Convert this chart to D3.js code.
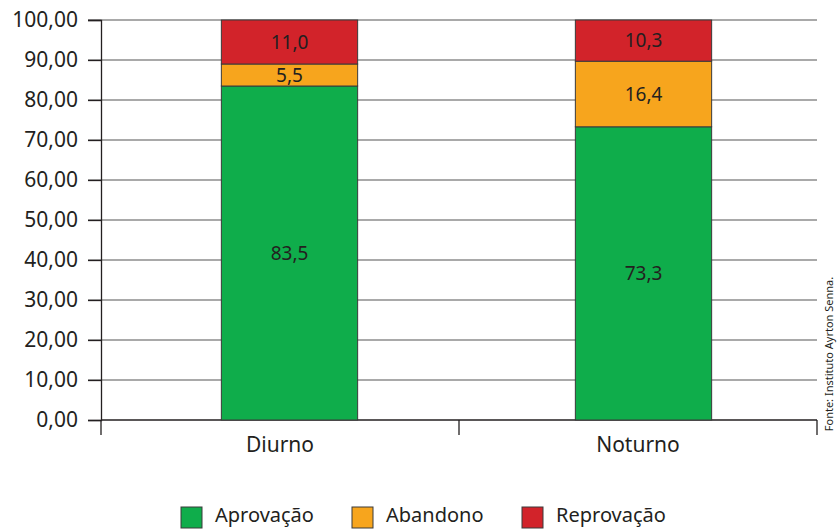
<!DOCTYPE html>
<html><head><meta charset="utf-8">
<script src="https://cdn.jsdelivr.net/npm/d3@7"></script>
<style>body{margin:0;background:#fff}svg{display:block}text{font-family:"Noto Sans",sans-serif;fill:#231f20}</style>
</head><body><svg id="c" width="837" height="529"></svg>
<script>
const categories = ["Diurno", "Noturno"];
const seriesNames = ["Aprovação", "Abandono", "Reprovação"];
const aprovacao = [83.5, 73.3];
const abandono = [5.5, 16.4];
const reprovacao = [11.0, 10.3];
const yTicks = [0, 10, 20, 30, 40, 50, 60, 70, 80, 90, 100];
const colors = ["#0fad4b", "#f7a51d", "#d2232a"];
const source = "Fonte: Instituto Ayrton Senna.";

(function () {
const svg = d3.select("#c");
const mLeft = 101, mRight = 817, mTop = 20, mBottom = 420;
const x = d3.scaleBand().domain(categories).range([mLeft, mRight]);
// bars sit slightly right of the axis band centres in the original
const xBar = d3.scaleBand().domain(categories).range([mLeft + 11.5, mRight + 3.5]);
const y = d3.scaleLinear().domain([0, 100]).range([mBottom, mTop]);
const fmt = v => d3.format(".2f")(v).replace(".", ",");
const fmt1 = v => d3.format(".1f")(v).replace(".", ",");

// gridlines
svg.append("g").selectAll("line").data(yTicks.filter(t => t > 0)).join("line")
  .attr("x1", 88).attr("x2", mRight).attr("y1", d => y(d)).attr("y2", d => y(d))
  .attr("stroke", "#8c8c8c").attr("stroke-width", 1.3);

// y axis
const ya = svg.append("g").attr("transform", `translate(${mLeft},0)`)
  .call(d3.axisLeft(y).tickValues(yTicks).tickFormat(fmt).tickSize(13).tickPadding(10));
ya.select(".domain").attr("stroke", "#231f20").attr("stroke-width", 1.3);
ya.selectAll(".tick line").attr("stroke", "#231f20").attr("stroke-width", 1.3);
ya.selectAll("text").style("font-size", "21px").attr("fill", "#231f20");

// x axis
const xa = svg.append("g").attr("transform", `translate(0,${mBottom})`)
  .call(d3.axisBottom(x).tickSize(0).tickPadding(17));
xa.select(".domain").attr("stroke", "#231f20").attr("stroke-width", 1.3).attr("d", `M${mLeft},0H${mRight}`);
xa.selectAll("text").style("font-size", "21px").attr("fill", "#231f20");
const bounds = [mLeft].concat(categories.map(c => x(c) + x.bandwidth()));
svg.append("g").selectAll("line").data(bounds).join("line")
  .attr("x1", d => d).attr("x2", d => d).attr("y1", mBottom).attr("y2", mBottom + 15)
  .attr("stroke", "#231f20").attr("stroke-width", 1.3);

// stacked bars
const rows = categories.map((c, i) => ({cat: c, a: aprovacao[i], b: abandono[i], r: reprovacao[i]}));
const stack = d3.stack().keys(["a", "b", "r"])(rows);
const bw = xBar.bandwidth() * 0.385;
stack.forEach((layer, li) => {
  const g = svg.append("g");
  g.selectAll("rect").data(layer).join("rect")
    .attr("x", d => xBar(d.data.cat) + (xBar.bandwidth() - bw) / 2)
    .attr("width", bw)
    .attr("y", d => y(d[1])).attr("height", d => y(d[0]) - y(d[1]))
    .attr("fill", colors[li]).attr("stroke", "#3a3a3a").attr("stroke-width", 1);
  g.selectAll("text").data(layer).join("text")
    .attr("x", d => xBar(d.data.cat) + xBar.bandwidth() / 2)
    .attr("y", d => (y(d[0]) + y(d[1])) / 2)
    .attr("text-anchor", "middle").attr("dy", "0.36em")
    .style("font-size", "19px")
    .text(d => fmt1(d[1] - d[0]));
});

// legend
const legX = [181, 352, 522];
const lg = svg.append("g");
seriesNames.forEach((n, i) => {
  lg.append("rect").attr("x", legX[i]).attr("y", 507).attr("width", 21).attr("height", 21)
    .attr("fill", colors[i]).attr("stroke", "#3a3a3a").attr("stroke-width", 1);
  lg.append("text").attr("x", legX[i] + 34).attr("y", 522).style("font-size", "20px").text(n);
});

// source
svg.append("text").attr("transform", "translate(833,354) rotate(-90)")
  .attr("text-anchor", "middle").style("font-size", "11px").text(source);
})();
</script></body></html>
